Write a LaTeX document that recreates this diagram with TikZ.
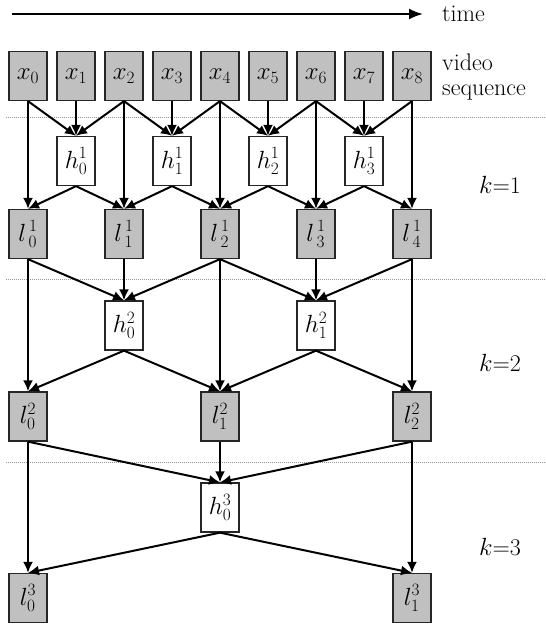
\documentclass[tikz,border=0pt]{standalone}
\usepackage{amsmath}
\usetikzlibrary{arrows.meta}
\DeclareMathSizes{24}{24}{16}{12}
\newcommand\vlab[3]{$#1^{#2}_{#3}$}
\newcommand\wlab[3]{$#1^{\,#2}_{\,#3}$}
\newcommand\xlab[1]{$x_{#1}$}
\definecolor{boxgray}{RGB}{192,192,192}
\definecolor{dotgray}{RGB}{150,150,150}
\tikzset{
  gbox/.style={draw=black!85, line width=1.3pt, fill=boxgray, minimum width=38pt, minimum height=49pt, inner sep=0pt},
  wbox/.style={draw=black!85, line width=1.3pt, fill=white, minimum width=38pt, minimum height=49pt, inner sep=0pt},
  arr/.style={line width=2pt, -{Latex[length=11pt,width=10pt]}},
  tarr/.style={line width=2pt, -{Latex[length=14pt,width=11pt]}},
  sep/.style={dotgray, line width=1pt, dash pattern=on 1pt off 1pt},
  lbl/.style={anchor=west, inner sep=0pt, align=left}
}
\begin{document}
\begin{tikzpicture}[x=1pt,y=-1pt, font=\fontsize{24}{26}\selectfont]
\useasboundingbox (0,0) rectangle (546,625);
% separators
\coordinate (d1a) at (6,117); \coordinate (d1b) at (546,117);
\coordinate (d2a) at (6,279); \coordinate (d2b) at (546,279);
\coordinate (d3a) at (6,462); \coordinate (d3b) at (546,462);
\draw[sep] (d1a) -- (d1b);
\draw[sep] (d2a) -- (d2b);
\draw[sep] (d3a) -- (d3b);
% time arrow
\coordinate (ts) at (12,14); \coordinate (te) at (423,14);
\draw[tarr] (ts) -- (te);
\node[lbl] (time) at (442,14) {time};
\node[lbl] (vs) at (442,77) {video\\[-1pt]sequence};
\node[lbl] (k1) at (479,185) {$k$=1};
\node[lbl] (k2) at (479,363) {$k$=2};
\node[lbl] (k3) at (479,547) {$k$=3};
% nodes
\foreach \i in {0,...,8}
  \node[gbox] (x\i) at ({28+48*\i},76) {\xlab{\i}};
\foreach \i in {0,...,3}
  \node[wbox] (ha\i) at ({76+96*\i},161) {\vlab{h}{1}{\i}};
\foreach \i in {0,...,4}
  \node[gbox] (la\i) at ({28+96*\i},234) {\wlab{l}{1}{\i}};
\foreach \i in {0,1}
  \node[wbox] (hb\i) at ({124+192*\i},325.5) {\vlab{h}{2}{\i}};
\foreach \i in {0,...,2}
  \node[gbox] (lb\i) at ({28+192*\i},416.5) {\vlab{l}{2}{\i}};
\node[wbox] (hc0) at (220,507.5) {\vlab{h}{3}{0}};
\node[gbox] (lc0) at (28,598) {\vlab{l}{3}{0}};
\node[gbox] (lc1) at (412,598) {\vlab{l}{3}{1}};
% level 1 connectors
\foreach \i in {0,...,3}{
  \pgfmathtruncatemacro\a{2*\i}
  \pgfmathtruncatemacro\b{2*\i+1}
  \pgfmathtruncatemacro\c{2*\i+2}
  \pgfmathtruncatemacro\n{\i+1}
  \draw[arr] (x\a.south) -- (ha\i.north);
  \draw[arr] (x\b.south) -- (ha\i.north);
  \draw[arr] (x\c.south) -- (ha\i.north);
  \draw[arr] (ha\i.south) -- (la\i.north);
  \draw[arr] (ha\i.south) -- (la\n.north);
}
\foreach \i in {0,...,4}{
  \pgfmathtruncatemacro\a{2*\i}
  \draw[arr] (x\a.south) -- (la\i.north);
}
% level 2 connectors
\foreach \i in {0,1}{
  \pgfmathtruncatemacro\a{2*\i}
  \pgfmathtruncatemacro\b{2*\i+1}
  \pgfmathtruncatemacro\c{2*\i+2}
  \pgfmathtruncatemacro\n{\i+1}
  \draw[arr] (la\a.south) -- (hb\i.north);
  \draw[arr] (la\b.south) -- (hb\i.north);
  \draw[arr] (la\c.south) -- (hb\i.north);
  \draw[arr] (hb\i.south) -- (lb\i.north);
  \draw[arr] (hb\i.south) -- (lb\n.north);
}
\foreach \i in {0,...,2}{
  \pgfmathtruncatemacro\a{2*\i}
  \draw[arr] (la\a.south) -- (lb\i.north);
}
% level 3 connectors
\draw[arr] (lb0.south) -- (hc0.north);
\draw[arr] (lb1.south) -- (hc0.north);
\draw[arr] (lb2.south) -- (hc0.north);
\draw[arr] (lb0.south) -- (lc0.north);
\draw[arr] (lb2.south) -- (lc1.north);
\draw[arr] (hc0.south) -- (lc0.north);
\draw[arr] (hc0.south) -- (lc1.north);
\end{tikzpicture}
\end{document}
